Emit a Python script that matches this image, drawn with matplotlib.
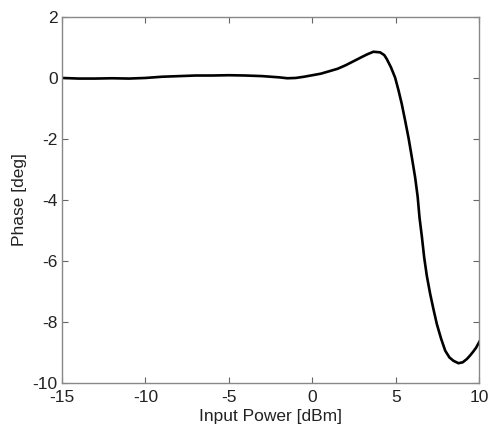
import numpy as np
import matplotlib
matplotlib.use("Agg")
import matplotlib.pyplot as plt

# =============================================================================== #
# DADOS

potencia = [-15.0, -14.0, -13.0, -12.0, -11.0, -10.0, -9.0, -8.0, -7.0, -6.0,
            -5.0, -4.0, -3.0, -2.0, -1.5, -1.0, -0.5, 0.0, 0.5, 1.0,
            1.5, 2.0, 2.5, 3.0, 3.3, 3.65, 4.05, 4.3, 4.45, 4.7,
            4.95, 5.15, 5.35, 5.55, 5.75, 5.95, 6.15, 6.3, 6.41, 6.55,
            6.69, 6.85, 7.05, 7.25, 7.45, 7.7, 7.95, 8.2, 8.44, 8.74,
            9.0, 9.25, 9.45, 9.64, 9.8, 10.0]
fase = [0.0, -0.02, -0.02, -0.01, -0.02, 0.0, 0.04, 0.06, 0.08, 0.08,
        0.09, 0.08, 0.06, 0.02, -0.01, 0.0, 0.04, 0.09, 0.14, 0.22,
        0.3, 0.42, 0.56, 0.7, 0.78, 0.86, 0.84, 0.75, 0.62, 0.35,
        0.01, -0.4, -0.86, -1.4, -1.96, -2.6, -3.27, -3.9, -4.58, -5.2,
        -5.89, -6.5, -7.09, -7.6, -8.08, -8.55, -8.95, -9.17, -9.28, -9.36,
        -9.33, -9.22, -9.1, -8.97, -8.85, -8.65]

xticks = [-15, -10, -5, 0, 5, 10]
yticks = [-10, -8, -6, -4, -2, 0, 2]

# =============================================================================== #
# GRAFICO

plt.rcParams["font.family"] = ["Liberation Sans", "DejaVu Sans"]
plt.rcParams["axes.unicode_minus"] = False

fig = plt.figure(figsize=(4.88, 4.25), dpi=100)
ax = fig.add_axes([0.127, 0.0995, 0.8555, 0.8605])

ax.plot(potencia, fase, "-k", linewidth=1.9)

ax.set_xlim(-15, 10)
ax.set_ylim(-10, 2)
ax.set_xticks(xticks)
ax.set_yticks(yticks)
ax.tick_params(direction="in", top=True, right=True, length=4, width=0.8,
               color="#666666", labelsize=12.5, labelcolor="#222222")
ax.tick_params(axis="x", pad=5)
ax.tick_params(axis="y", pad=3)
for s in ax.spines.values():
    s.set_color("#888888")
    s.set_linewidth(1.0)

ax.set_xlabel("Input Power [dBm]", fontsize=12.5, color="#222222", labelpad=3)
ax.set_ylabel("Phase [deg]", fontsize=12.5, color="#222222", labelpad=4)

fig.savefig("out.png", dpi=100)
